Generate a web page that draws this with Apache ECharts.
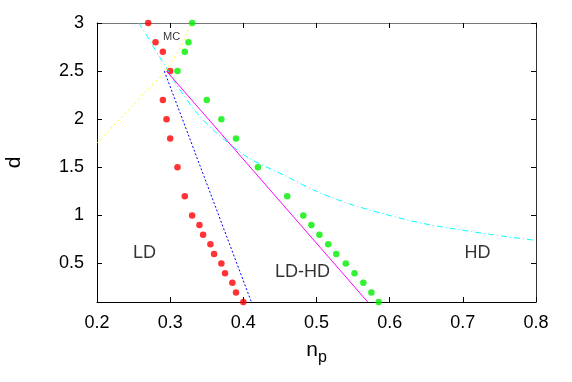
<!DOCTYPE html>
<html>
<head>
<meta charset="utf-8">
<title>phase diagram</title>
<script src="https://cdn.jsdelivr.net/npm/echarts@6.0.0/dist/echarts.min.js"></script>
<style>
  html, body { margin: 0; padding: 0; background: #fff; }
  #chart { width: 572px; height: 382px; }
</style>
</head>
<body>
<div id="chart"></div>
<script>
// x axis ticks
var xTicks = [0.2, 0.3, 0.4, 0.5, 0.6, 0.7, 0.8];
// y axis ticks (axis runs from 0.1 to 3)
var yTicks = [0.5, 1, 1.5, 2, 2.5, 3];

// MC points, red set
var redN = [0.27, 0.28, 0.29, 0.30, 0.29, 0.295, 0.30, 0.31, 0.32, 0.33, 0.34, 0.345, 0.355, 0.36, 0.37, 0.375, 0.385, 0.39, 0.40];
var redD = [3.0, 2.8, 2.7, 2.5, 2.2, 2.0, 1.8, 1.5, 1.2, 1.0, 0.9, 0.8, 0.7, 0.6, 0.5, 0.4, 0.3, 0.2, 0.1];

// MC points, green set
var greenN = [0.33, 0.325, 0.32, 0.31, 0.35, 0.37, 0.39, 0.42, 0.46, 0.482, 0.493, 0.504, 0.516, 0.527, 0.54, 0.552, 0.564, 0.575, 0.585];
var greenD = [3.0, 2.8, 2.7, 2.5, 2.2, 2.0, 1.8, 1.5, 1.2, 1.0, 0.9, 0.8, 0.7, 0.6, 0.5, 0.4, 0.3, 0.2, 0.1];

// cyan dash-dot curve
var cyanN = [0.257, 0.272, 0.286, 0.297, 0.313, 0.336, 0.36, 0.385, 0.409, 0.455, 0.50, 0.545, 0.59, 0.637, 0.68, 0.74, 0.80];
var cyanD = [3.0, 2.82, 2.64, 2.51, 2.31, 2.07, 1.88, 1.72, 1.59, 1.42, 1.25, 1.12, 1.02, 0.93, 0.87, 0.80, 0.74];

// yellow dotted curve
var yellowN = [0.2, 0.222, 0.245, 0.268, 0.291, 0.313, 0.328];
var yellowD = [1.75, 1.93, 2.11, 2.30, 2.48, 2.73, 3.0];

// blue dotted line
var blueN = [0.292, 0.411];
var blueD = [2.5, 0.1];

// magenta line
var magentaN = [0.295, 0.57];
var magentaD = [2.5, 0.1];

// region labels
var labelText = ['MC', 'LD', 'LD-HD', 'HD'];
var labelN = [0.302, 0.265, 0.481, 0.72];
var labelD = [2.85, 0.61, 0.41, 0.61];

function zip(a, b) {
    var out = [];
    for (var i = 0; i < a.length; i++) out.push([a[i], b[i]]);
    return out;
}

var font = 'Liberation Sans, Arial, Helvetica, sans-serif';

var labelData = [];
for (var i = 0; i < labelText.length; i++) {
    labelData.push({
        value: [labelN[i], labelD[i]],
        label: { formatter: labelText[i], fontSize: labelText[i] == 'MC' ? 11 : 18 }
    });
}

var axisCommon = {
    type: 'value',
    axisLine: { show: true, lineStyle: { color: '#000', width: 1 } },
    axisTick: { show: true, inside: true, length: 5, lineStyle: { color: '#000' } },
    splitLine: { show: false }
};

var myChart = echarts.init(document.getElementById('chart'));
var option = {
    animation: false,
    backgroundColor: '#fff',
    grid: { left: 97, right: 36, top: 23, bottom: 80, containLabel: false, outerBoundsMode: 'none' },
    xAxis: [
        Object.assign({}, axisCommon, {
            position: 'bottom',
            min: 0.2, max: 0.8, interval: 0.1,
            name: '{n|n}{p|p}',
            nameLocation: 'middle',
            nameGap: 38,
            nameTextStyle: {
                rich: {
                    n: { fontSize: 21, fontFamily: font, color: '#000', padding: [0, 0, 5, 0], verticalAlign: 'bottom' },
                    p: { fontSize: 16, fontFamily: font, color: '#000', verticalAlign: 'bottom' }
                }
            },
            axisLabel: {
                color: '#000', fontSize: 18, fontFamily: font, margin: 12,
                customValues: xTicks
            },
            axisTick: { show: true, inside: true, length: 5, customValues: xTicks, lineStyle: { color: '#000' } }
        }),
        Object.assign({}, axisCommon, {
            position: 'top',
            min: 0.2, max: 0.8, interval: 0.1,
            axisLine: { show: true, lineStyle: { color: '#777', width: 1 } },
            axisLabel: { show: false },
            axisTick: { show: true, inside: true, length: 5, customValues: xTicks, lineStyle: { color: '#000' } }
        })
    ],
    yAxis: [
        Object.assign({}, axisCommon, {
            position: 'left',
            min: 0.1, max: 3,
            name: 'd',
            nameLocation: 'middle',
            nameRotate: 90,
            nameGap: 72,
            nameTextStyle: { fontSize: 21, fontFamily: font, color: '#000' },
            axisLabel: {
                color: '#000', fontSize: 18, fontFamily: font, margin: 13,
                customValues: yTicks
            },
            axisTick: { show: true, inside: true, length: 5, customValues: yTicks, lineStyle: { color: '#000' } }
        }),
        Object.assign({}, axisCommon, {
            position: 'right',
            min: 0.1, max: 3,
            axisLine: { show: true, lineStyle: { color: '#333', width: 1 } },
            axisLabel: { show: false },
            axisTick: { show: true, inside: true, length: 5, customValues: yTicks, lineStyle: { color: '#000' } }
        })
    ],
    series: [
        {
            name: 'cyan', type: 'line', data: zip(cyanN, cyanD), smooth: 0.3,
            showSymbol: false, symbol: 'none',
            lineStyle: { color: '#00ffff', width: 1, type: [6, 3, 1, 3] }
        },
        {
            name: 'yellow', type: 'line', data: zip(yellowN, yellowD), smooth: 0.3,
            showSymbol: false, symbol: 'none',
            lineStyle: { color: '#ffff00', width: 1, type: [2, 3] }
        },
        {
            name: 'blue', type: 'line', data: zip(blueN, blueD),
            showSymbol: false, symbol: 'none',
            lineStyle: { color: '#0000ff', width: 1, type: [2, 2] }
        },
        {
            name: 'magenta', type: 'line', data: zip(magentaN, magentaD),
            showSymbol: false, symbol: 'none',
            lineStyle: { color: '#ff00ff', width: 1 }
        },
        {
            name: 'red', type: 'scatter', data: zip(redN, redD),
            symbolSize: 6.5, itemStyle: { color: '#ff0000' }, clip: false
        },
        {
            name: 'green', type: 'scatter', data: zip(greenN, greenD),
            symbolSize: 6.5, itemStyle: { color: '#00ee00' }, clip: false
        },
        {
            name: 'labels', type: 'scatter', data: labelData,
            symbolSize: 0, silent: true,
            label: { show: true, position: 'inside', color: '#000', fontFamily: font }
        }
    ]
};
myChart.setOption(option);
</script>
</body>
</html>
